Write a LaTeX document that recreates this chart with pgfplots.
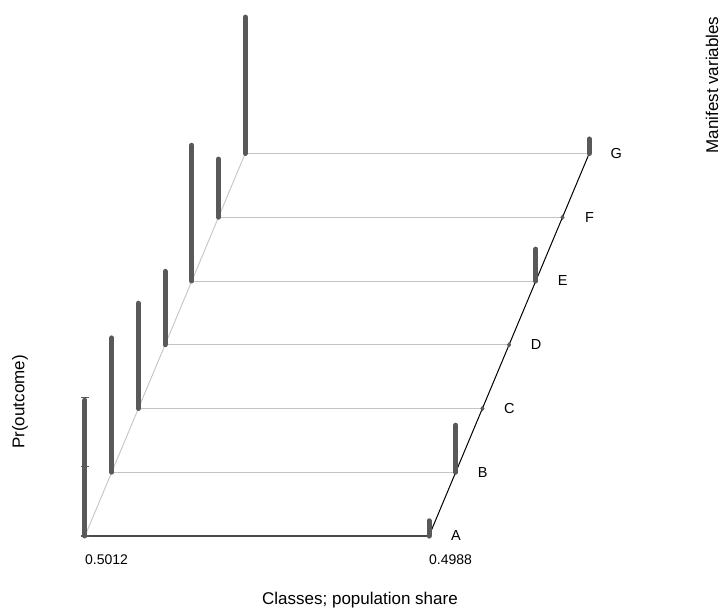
\documentclass[border=0pt]{standalone}
\usepackage{pgfplots}
\pgfplotsset{compat=1.18}
\usepackage{fontspec}
\setmainfont{Liberation Sans}
\definecolor{bargray}{HTML}{595959}
\definecolor{gridgray}{HTML}{C4C4C4}
\definecolor{basegray}{HTML}{4A4A4A}
\tikzset{vlab/.style={font=\fontsize{14.5pt}{16pt}\selectfont, xshift=27pt}}
\begin{document}
\begin{tikzpicture}
\begin{axis}[
  hide axis,
  x={(344pt,0pt)}, y={(26.7pt,63.75pt)}, z={(0pt,138.5pt)},
  xmin=1, xmax=2, ymin=0, ymax=6, zmin=0, zmax=1,
  clip=false,
]
% page frame (invisible)
\path (axis cs:1,0,0) ++(-85pt,-76pt) rectangle ++(721pt,612pt);
% grid lines
\addplot3[gridgray, line width=0.9pt] coordinates {(1,0,0) (1,6,0)};
\addplot3[gridgray, line width=0.9pt] coordinates {(1,1,0) (2,1,0)};
\addplot3[gridgray, line width=0.9pt] coordinates {(1,2,0) (2,2,0)};
\addplot3[gridgray, line width=0.9pt] coordinates {(1,3,0) (2,3,0)};
\addplot3[gridgray, line width=0.9pt] coordinates {(1,4,0) (2,4,0)};
\addplot3[gridgray, line width=0.9pt] coordinates {(1,5,0) (2,5,0)};
\addplot3[gridgray, line width=0.9pt] coordinates {(1,6,0) (2,6,0)};
% frame lines
\addplot3[basegray, line width=1.6pt] coordinates {(1,0,0) (2,0,0)};
\addplot3[black, line width=1pt] coordinates {(2,0,0) (2,6,0)};
% z ticks
\addplot3[only marks, mark=-, mark size=4pt, bargray, mark options={line width=1.3pt}] coordinates {(1,0,0) (1,0,0.5) (1,0,1)};
% bars: class 1 (0.5012)
\addplot3[bargray, line width=5pt, line cap=round] coordinates {(1,0,0) (1,0,0.98)};
\addplot3[bargray, line width=5pt, line cap=round] coordinates {(1,1,0) (1,1,0.97)};
\addplot3[bargray, line width=5pt, line cap=round] coordinates {(1,2,0) (1,2,0.76)};
\addplot3[bargray, line width=5pt, line cap=round] coordinates {(1,3,0) (1,3,0.53)};
\addplot3[bargray, line width=5pt, line cap=round] coordinates {(1,4,0) (1,4,0.98)};
\addplot3[bargray, line width=5pt, line cap=round] coordinates {(1,5,0) (1,5,0.42)};
\addplot3[bargray, line width=5pt, line cap=round] coordinates {(1,6,0) (1,6,0.985)};
% bars: class 2 (0.4988)
\addplot3[bargray, line width=5pt, line cap=round] coordinates {(2,0,0) (2,0,0.11)};
\addplot3[bargray, line width=5pt, line cap=round] coordinates {(2,1,0) (2,1,0.34)};
\addplot3[bargray, line width=5pt, line cap=round] coordinates {(2,4,0) (2,4,0.23)};
\addplot3[bargray, line width=5pt, line cap=round] coordinates {(2,6,0) (2,6,0.105)};
% base markers
\addplot3[only marks, mark=diamond*, mark size=2.4pt, bargray] coordinates {(2,0,0) (2,1,0) (2,2,0) (2,3,0) (2,4,0) (2,5,0) (2,6,0)};
% variable labels
\node[vlab] at (axis cs:2,0,0) {A};
\node[vlab] at (axis cs:2,1,0) {B};
\node[vlab] at (axis cs:2,2,0) {C};
\node[vlab] at (axis cs:2,3,0) {D};
\node[vlab] at (axis cs:2,4,0) {E};
\node[vlab] at (axis cs:2,5,0) {F};
\node[vlab] at (axis cs:2,6,0) {G};
% class labels
\node[font=\fontsize{14pt}{16pt}\selectfont, anchor=west, yshift=-24pt, inner sep=0pt] at (axis cs:1,0,0) {0.5012};
\node[font=\fontsize{14pt}{16pt}\selectfont, anchor=west, yshift=-24pt, inner sep=0pt] at (axis cs:2,0,0) {0.4988};
% axis titles
\node[font=\fontsize{17pt}{19pt}\selectfont, inner sep=0pt] at ([shift={(275pt,-64pt)}]axis cs:1,0,0) {Classes; population share};
\node[font=\fontsize{17pt}{19pt}\selectfont, inner sep=0pt, rotate=90] at ([shift={(-65pt,134pt)}]axis cs:1,0,0) {Pr(outcome)};
\node[font=\fontsize{17pt}{19pt}\selectfont, inner sep=0pt, rotate=90] at ([shift={(627pt,451pt)}]axis cs:1,0,0) {Manifest variables};
\end{axis}
\end{tikzpicture}
\end{document}
